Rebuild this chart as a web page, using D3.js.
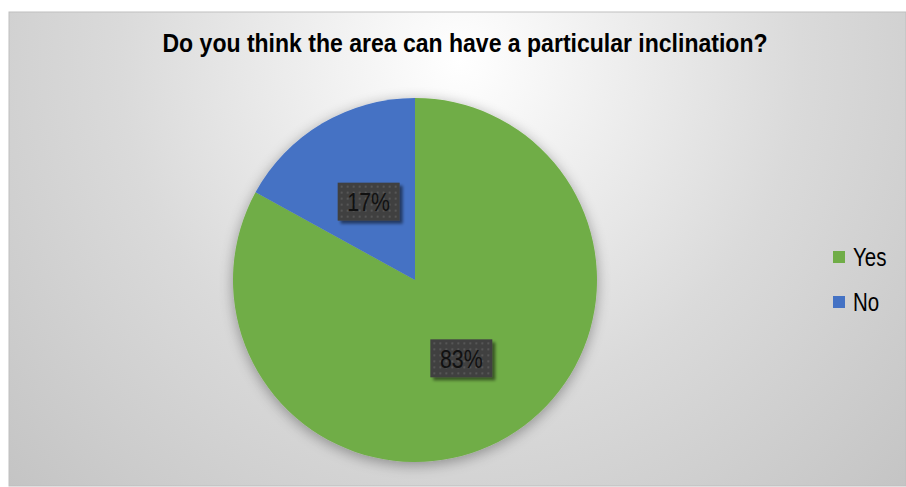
<!DOCTYPE html>
<html>
<head>
<meta charset="utf-8">
<script src="https://cdn.jsdelivr.net/npm/d3@7"></script>
<style>
  html, body { margin: 0; padding: 0; background: #ffffff; }
  svg { display: block; }
  text { font-family: "Liberation Sans", Arial, sans-serif; }
</style>
</head>
<body>
<svg id="chart" width="906" height="487"></svg>
<script>
// Survey answers
const categories = ["Yes", "No"];
const values = [83, 17];
const colors = ["#70AD47", "#4472C4"];
const titleText = "Do you think the area can have a particular inclination?";

const W = 906, H = 487;
const NARROW = 0.82; // horizontal squeeze to get a narrow face
const svg = d3.select("#chart");
const defs = svg.append("defs");

// Chart area background: soft radial fill, white near the top centre, grey to the edges
const bg = defs.append("radialGradient")
  .attr("id", "bgGrad")
  .attr("gradientUnits", "userSpaceOnUse")
  .attr("cx", 460).attr("cy", 60).attr("r", 620);
bg.append("stop").attr("offset", "0").attr("stop-color", "#ffffff");
bg.append("stop").attr("offset", "0.55").attr("stop-color", "#dadada");
bg.append("stop").attr("offset", "1").attr("stop-color", "#c4c4c4");

// Drop shadow around the pie
const pieShadow = defs.append("filter").attr("id", "pieShadow")
  .attr("x", "-20%").attr("y", "-20%").attr("width", "140%").attr("height", "140%");
pieShadow.append("feGaussianBlur").attr("in", "SourceAlpha").attr("stdDeviation", 7).attr("result", "b");
pieShadow.append("feOffset").attr("in", "b").attr("dx", 0).attr("dy", 3).attr("result", "o");
pieShadow.append("feComponentTransfer").attr("in", "o").attr("result", "s")
  .append("feFuncA").attr("type", "linear").attr("slope", 0.35);
const pm = pieShadow.append("feMerge");
pm.append("feMergeNode").attr("in", "s");
pm.append("feMergeNode").attr("in", "SourceGraphic");

// Shadow for the data-label boxes
const lblShadow = defs.append("filter").attr("id", "lblShadow")
  .attr("x", "-20%").attr("y", "-20%").attr("width", "150%").attr("height", "160%");
lblShadow.append("feGaussianBlur").attr("in", "SourceAlpha").attr("stdDeviation", 1.5).attr("result", "b");
lblShadow.append("feOffset").attr("in", "b").attr("dx", 3).attr("dy", 3).attr("result", "o");
lblShadow.append("feComponentTransfer").attr("in", "o").attr("result", "s")
  .append("feFuncA").attr("type", "linear").attr("slope", 0.5);
const lm = lblShadow.append("feMerge");
lm.append("feMergeNode").attr("in", "s");
lm.append("feMergeNode").attr("in", "SourceGraphic");

// Dotted texture for the data-label boxes
const pat = defs.append("pattern").attr("id", "dots")
  .attr("patternUnits", "userSpaceOnUse").attr("width", 6).attr("height", 6);
pat.append("rect").attr("width", 6).attr("height", 6).attr("fill", "#404040");
pat.append("rect").attr("x", 2).attr("y", 2).attr("width", 2).attr("height", 2).attr("fill", "#575757");

// Background panel
svg.append("rect")
  .attr("x", 9).attr("y", 12).attr("width", W - 9).attr("height", H - 13)
  .attr("fill", "url(#bgGrad)")
  .attr("stroke", "#bfbfbf").attr("stroke-width", 1);

// Title
svg.append("text")
  .attr("x", 465).attr("y", 52)
  .attr("text-anchor", "middle")
  .attr("font-size", 25).attr("font-weight", "bold")
  .attr("textLength", 605).attr("lengthAdjust", "spacingAndGlyphs")
  .attr("fill", "#000")
  .text(titleText);

// Pie
const cx = 415, cy = 280, R = 182;
const pie = d3.pie().sort(null).value(d => d.value)
  .startAngle(0).endAngle(2 * Math.PI);
const data = categories.map((c, i) => ({ name: c, value: values[i], color: colors[i] }));
const arcs = pie(data);
const arc = d3.arc().innerRadius(0).outerRadius(R);
const total = d3.sum(values);

const g = svg.append("g").attr("transform", `translate(${cx},${cy})`);
g.append("g").attr("filter", "url(#pieShadow)")
  .selectAll("path").data(arcs).join("path")
  .attr("d", arc)
  .attr("fill", d => d.data.color);

// Data labels at the slice centroids
const lbl = g.selectAll("g.lbl").data(arcs).join("g")
  .attr("class", "lbl")
  .attr("transform", d => {
    const [x, y] = arc.centroid(d);
    return `translate(${x},${y})`;
  });
lbl.append("rect")
  .attr("x", -31).attr("y", -19).attr("width", 62).attr("height", 38)
  .attr("fill", "url(#dots)")
  .attr("filter", "url(#lblShadow)");
lbl.append("text")
  .attr("transform", `translate(0,9.5) scale(${NARROW},1)`)
  .attr("text-anchor", "middle")
  .attr("font-size", 26)
  .attr("fill", "#111")
  .text(d => Math.round(d.data.value / total * 100) + "%");

// Legend
const legend = svg.append("g").attr("transform", "translate(833,251)");
const li = legend.selectAll("g").data(data).join("g")
  .attr("transform", (d, i) => `translate(0,${i * 45})`);
li.append("rect").attr("width", 12).attr("height", 12).attr("fill", d => d.color);
li.append("text")
  .attr("transform", `translate(20,15) scale(${NARROW},1)`)
  .attr("font-size", 25)
  .attr("fill", "#000")
  .text(d => d.name);
</script>
</body>
</html>
